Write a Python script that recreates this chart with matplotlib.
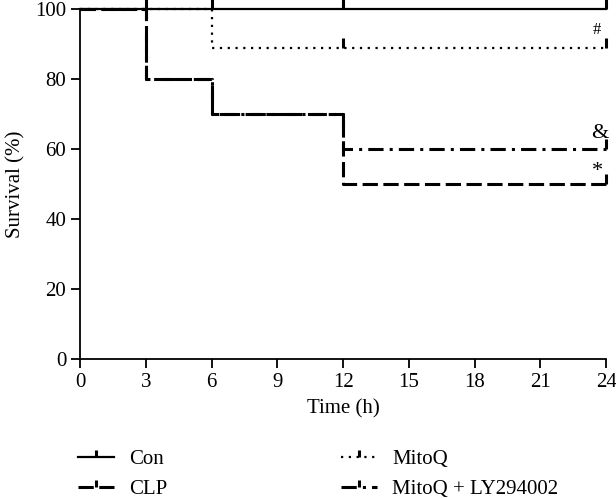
import matplotlib
matplotlib.use('Agg')
from matplotlib import pyplot as plt
from matplotlib.path import Path

plt.rcParams['font.family'] = ['Liberation Serif', 'DejaVu Serif']
plt.rcParams['font.size'] = 15

times = [0, 3, 6, 12, 24]
con = [100, 100, 100, 100, 100]
clp = [100, 80, 70, 50, 50]
mitoq = [100, 100, 88.9, 88.9, 88.9]
mitoq_ly = [100, 80, 70, 60, 60]

# censored points (time, survival)
con_cens = ([3, 6, 12, 24], [100, 100, 100, 100])
clp_cens = ([24], [50])
mitoq_cens = ([12, 24], [88.9, 88.9])
ly_cens = ([24], [60])

tick = Path([(0, 0), (0, 1)], [Path.MOVETO, Path.LINETO])

fig = plt.figure(figsize=(6.16, 4.98), dpi=100)
ax = fig.add_axes([0.130, 0.279, 0.854, 0.703])

def km(x, y, cx, cy, ls, lw, label):
    ax.step(x, y, where='post', color='black', linestyle=ls, linewidth=lw,
            clip_on=False)
    ax.plot(cx, cy, linestyle='none', marker=tick, markersize=14,
            markeredgewidth=2.2, color='black', clip_on=False)
    # proxy for legend
    ax.plot([], [], color='black', linestyle=ls, linewidth=lw, marker=tick,
            markersize=10, markeredgewidth=2.2, label=label)

km(times, mitoq_ly, *ly_cens, (0, (5, 2, 1, 2)), 2.2, 'MitoQ + LY294002')
km(times, clp, *clp_cens, (0, (5, 1.8)), 2.2, 'CLP')
km(times, mitoq, *mitoq_cens, (0, (1, 2.5)), 1.6, 'MitoQ')
km(times, con, *con_cens, '-', 1.6, 'Con')

ax.text(23.6, 94, '#', ha='center', va='center', fontsize=12)
ax.text(23.7, 64.5, '&', ha='center', va='center', fontsize=16)
ax.text(23.6, 53.5, '*', ha='center', va='center', fontsize=16)

ax.set_xlim(0, 24)
ax.set_ylim(0, 100)
ax.set_xticks(range(0, 25, 3))
ax.set_yticks(range(0, 101, 20))
ax.set_xlabel('Time (h)', labelpad=5)
ax.set_ylabel('Survival (%)', labelpad=7)
ax.spines['top'].set_visible(False)
ax.spines['right'].set_visible(False)
for s in ['left', 'bottom']:
    ax.spines[s].set_linewidth(1.3)
ax.tick_params(direction='out', length=6.5, width=1.3)

h, l = ax.get_legend_handles_labels()
order = ['Con', 'CLP', 'MitoQ', 'MitoQ + LY294002']
hd = dict(zip(l, h))
fig.legend([hd[k] for k in order], order, ncol=2, frameon=False,
           loc='upper left', bbox_to_anchor=(0.1266, 0.097), borderpad=0,
           borderaxespad=0, columnspacing=8.3, handlelength=1.75,
           handletextpad=0.72, labelspacing=0.5)

fig.savefig('out.png', dpi=100)
